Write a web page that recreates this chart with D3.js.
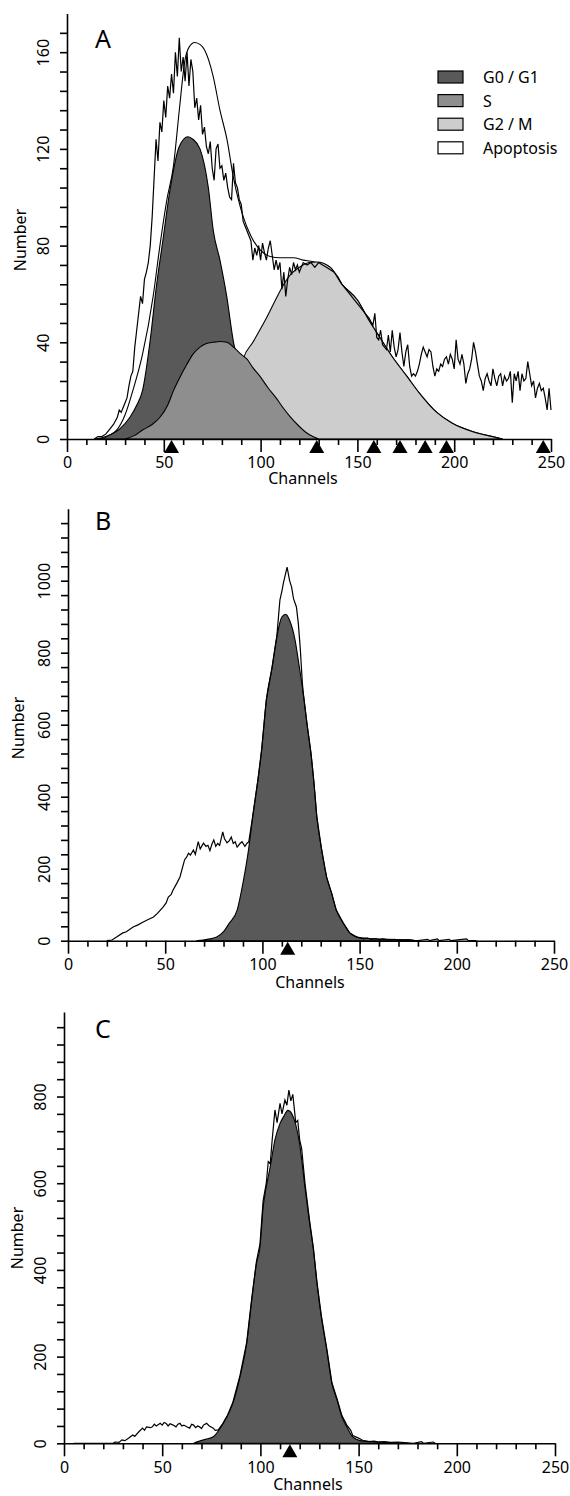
<!DOCTYPE html>
<html>
<head>
<meta charset="utf-8">
<script src="https://cdn.jsdelivr.net/npm/d3@7"></script>
<style>
body{margin:0;background:#fff}
svg{display:block;font-family:"Noto Sans",sans-serif}
</style>
</head>
<body>
<svg width="570" height="1496"></svg>
<script>
// ---- panel A : [channel, number]
var aEnvelope = [[14,0],[20,1],[26,4],[30,10],[34,20],[39,35],[44.5,59],[48,80],[51.6,99],[55,113],[58,136],[61,157],[63,162],[66,164],[69,163],[71,161],[75.5,150],[79,136],[82.6,124],[86,108],[91,92],[95,84],[100,78],[105,75.5],[110,75],[117,75],[122,74],[126,73.5],[129,73],[136,71],[142,64],[150,57.5],[156,49],[161.6,42],[168,34],[175.5,26],[182,19],[191,11],[199,6.5],[210,3],[218,1.3],[225,0]];
var aG0G1 = [[18,0],[22,1.6],[27,4],[32.5,9],[36,14],[39,20],[43,41],[46,62],[49.5,82],[53,102],[58,121],[62.5,125],[65,124],[68.7,120],[73,104],[75.6,86],[79,74],[82.5,59],[86,40],[90,28],[95,16],[100,9],[105,4],[110,2],[115,0.5],[118,0]];
var aS = [[30,0],[35,1.5],[39,3.7],[44,6],[48,9],[52,14],[55,20],[58,25],[62,31],[65,35],[68.7,38],[72,39.5],[75.5,40],[79,40.3],[82.6,40],[86,38],[90,35],[93,33],[96,29.5],[99.6,26],[104,21],[108,17],[112,12.5],[115,9.5],[119,6],[123,3],[127,1],[130,0]];
var aG2M = [[75,0],[80,3],[85,12],[88,22],[91,33],[96,40],[103,50],[108,58],[112,64],[116,68.5],[120,71],[125,73],[129,73.2],[136,71],[142,64],[150,57.5],[156,49],[161.6,42],[168,34],[175.5,26],[182,19],[191,11],[199,6.5],[209.6,3],[218,1.3],[225,0]];
var aRaw = [[14,0],[16,1],[18,1],[20,2],[22,4],[24,6],[26,9],[27,12],[28,11],[29,13],[30,15],[31,17],[32,22],[33,26],[34,28],[35,38],[36,45],[37,52],[38,59],[39,56],[40,66],[41,69],[42,73],[43,80],[44,92],[45,108],[46,124],[47,115],[48,131],[49,127],[50,140],[51,133],[52,146],[53,141],[54,151],[55,143],[56,160],[57,150],[58,166],[59,152],[60,158],[61,148],[62,160],[63,146],[64,157],[65,152],[66,137],[67,141],[68,132],[69,138],[70,126],[71,129],[72,121],[73,118],[74,123],[75,112],[76,107],[77,120],[78,122],[79,112],[80,113],[81,107],[82,110],[83,104],[84,100],[85,99],[86,114],[87,106],[88,104],[89,99],[90,97],[91,90],[92,88],[93,86],[94,84],[95,82],[96,74],[97,79],[98,76],[99,80],[100,74],[101,81],[102,77],[103,74],[104,79],[105,82],[106,76],[107,70],[108,74],[109,70],[110,73],[111,62],[112,69],[113,59],[114,66],[115,71],[116,68],[117,73],[118,70],[119,72],[120,69],[122,73],[124,72],[126,73],[128,71],[130,73],[132,72],[134,71],[136,70],[138,69],[140,67],[142,64],[144,62],[146,60],[148,58],[150,56],[152,54],[154,52],[156,50],[158,47],[159,52],[160,42],[161,41],[162,45],[163,39],[164,38],[165,37],[166,43],[167,36],[168,45],[169,38],[170,34],[171,37],[172,44],[173,36],[174,30],[175,36],[176,39],[177,30],[178,26],[179,27],[180,26],[181,28],[182,31],[183,35],[184,38],[185,36],[186,34],[187,37],[188,36],[189,30],[190,26],[191,29],[192,28],[193,31],[194,30],[195,33],[196,34],[197,31],[198,35],[199,33],[200,29],[201,41],[202,33],[203,31],[204,35],[205,31],[206,23],[207,27],[208,29],[209,33],[210,40],[211,36],[212,31],[213,26],[214,24],[215,20],[216,25],[217,27],[218,24],[219,22],[220,29],[221,25],[222,22],[223,26],[224,27],[225,22],[226,26],[227,24],[228,25],[229,28],[230,15],[231,27],[232,24],[233,28],[234,20],[235,27],[236,24],[237,25],[238,32],[239,27],[240,22],[241,24],[242,17],[243,21],[244,23],[245,20],[246,21],[247,17],[248,12],[249,21],[250,12]];
var aMarkers = [54, 129, 158.5, 172, 185, 196, 246];

// ---- panel B
var bG0G1 = [[66,0],[69.5,2],[73,5],[76.5,10],[80,25],[83,49],[87,85],[90,160],[92.8,250],[95,344],[97.9,455],[99.6,530],[102,668],[105,760],[107.4,844],[110,899],[112,907],[114,890],[116.8,835],[119,760],[121,688],[123,600],[125,520],[126.5,440],[128,344],[130.5,252],[133,177],[135.6,132],[138,85],[141.6,49],[145,21],[148.6,10],[155,6],[165,4],[175,2],[180,0]];
var bRaw = [[20,0],[22.6,2],[25,10],[28,21],[30,25],[33.5,38],[36,44],[38.7,52],[41,58],[44,66],[46,76],[49,94],[50.5,105],[51.6,121],[53,128],[54,140],[56,160],[57.6,177],[59,205],[60,225],[61,232],[62,243],[63,238],[64.5,252],[65.5,240],[67,275],[68,255],[69.7,271],[71,262],[72,265],[73,250],[74,268],[75,280],[76,262],[77,270],[78,265],[79.6,302],[80.5,283],[81.8,272],[83,278],[84,288],[85,270],[86,275],[87,260],[88.5,270],[89.5,275],[91,262],[92,270],[93,275],[95,344],[97.9,455],[99.6,530],[102,668],[105,760],[107.4,844],[109,946],[110,970],[110.8,993],[112.7,1038],[114,1000],[115,983],[116,950],[117.5,927],[118.5,880],[119.5,810],[120.5,720],[121,688],[123,600],[125,520],[126.5,440],[128,344],[130.5,252],[133,177],[135.6,132],[138,85],[141.6,49],[145,21],[148.6,10],[150,8],[152,5],[154,7],[156,4],[158,6],[160,3],[162,5],[165,2],[168,4],[170,2],[175,3],[178,1],[180,0],[185,4],[186,0],[190,5],[191,0],[196,4],[197,0],[205,5],[206,0],[210,0]];
var bMarkers = [113];

// ---- panel C
var cG0G1 = [[66,0],[69,5],[72,9],[76,15],[81,46],[86,92],[89.6,153],[93,230],[95.6,330],[98,415],[99.8,453],[101.4,545],[103,592],[105,638],[107.4,700],[110,738],[112,755],[114,768],[116,760],[118,735],[120,690],[122.7,590],[125,510],[127,446],[128.8,369],[131,292],[133.8,215],[136.4,138],[139,100],[141.5,61],[144,38],[147,15],[152,5],[160,3],[170,1],[175,0]];
var cRaw = [[5,0],[25,0],[26,3],[28,2],[29.5,8],[31,6],[33,12],[35,19],[36,16],[38,26],[40,35],[41,30],[42,38],[44,36],[45,38],[46,44],[47,40],[49,46],[50,42],[51,48],[52,46],[53,40],[54,45],[55.6,42],[57,38],[58,44],[59,46],[60,40],[61,42],[62.5,38],[64,35],[65,44],[66,42],[67,36],[68,40],[69,38],[70,34],[71,42],[72.6,46],[74,40],[76,35],[77,30],[78.6,31],[80,40],[81,46],[82,55],[83,62],[86,95],[89.6,156],[93,232],[95.6,335],[98,420],[99.8,460],[101.4,560],[103,600],[104,650],[105,645],[106,700],[107.4,769],[108.5,740],[110,784],[111,760],[112.5,792],[113.5,780],[114.5,815],[115.5,790],[116.5,805],[118,740],[119,745],[120,700],[121,680],[122.7,600],[125,515],[127,450],[128.8,372],[131,295],[133.8,218],[136.4,140],[139,103],[141.5,64],[144,42],[146,30],[147,18],[150,12],[152,7],[155,4],[158,5],[160,3],[163,4],[166,2],[170,3],[175,1],[178,0],[182,4],[183,0],[188,3],[189,0]];
var cMarkers = [115];

var phaseNames  = ["G0 / G1", "S", "G2 / M", "Apoptosis"];
var phaseColors = ["#595959", "#8e8e8e", "#cdcdcd", "#ffffff"];

var svg = d3.select("svg");

function drawPanel(p){
    var x = d3.scaleLinear().domain([0, 250]).range([p.left, p.right]);
    var y = d3.scaleLinear().domain([0, p.yMax]).range([p.bottom, p.top]);
    var g = svg.append("g");

    var area = d3.area()
        .x(function(d){ return x(d[0]); })
        .y0(y(0))
        .y1(function(d){ return y(d[1]); })
        .curve(d3.curveMonotoneX);

    p.layers.forEach(function(l){
        g.append("path")
            .datum(l.data)
            .attr("d", area)
            .attr("fill", l.fill)
            .attr("stroke", "#000")
            .attr("stroke-width", 1.1);
    });

    var line = d3.line()
        .x(function(d){ return x(d[0]); })
        .y(function(d){ return y(d[1]); });

    g.append("path")// raw histogram
        .datum(p.raw)
        .attr("d", line)
        .attr("fill", "none")
        .attr("stroke", "#000")
        .attr("stroke-width", 1.2);

    // y axis
    var yAxis = d3.axisLeft(y)
        .tickValues(d3.range(0, p.yMax, p.minor))
        .tickSizeInner(7)
        .tickSizeOuter(0)
        .tickFormat(function(d){ return d % p.major === 0 ? d : ""; });

    var ya = g.append("g")
        .attr("transform", "translate(" + p.left + ",0)")
        .call(yAxis);
    ya.selectAll("text")
        .attr("x", null).attr("dy", null)
        .attr("text-anchor", "middle")
        .attr("dominant-baseline", "central")
        .attr("transform", "translate(-24,0) rotate(-90)");

    // x axis
    var xAxis = d3.axisBottom(x)
        .tickValues(d3.range(0, 251, 10))
        .tickSizeInner(6)
        .tickSizeOuter(0)
        .tickFormat(function(d){ return d % 50 === 0 ? d : ""; });

    var xa = g.append("g")
        .attr("transform", "translate(0," + p.bottom + ")")
        .call(xAxis);
    xa.selectAll(".tick line")
        .filter(function(d){ return d % 50 === 0; })
        .attr("y2", 13);
    xa.selectAll("text").attr("y", 18);

    [ya, xa].forEach(function(a){
        a.attr("font-size", 16).attr("font-family", null);
        a.selectAll("path, line").attr("stroke", "#000").attr("stroke-width", 1.6);
        a.selectAll("text").attr("fill", "#000");
    });

    // peak markers
    g.selectAll(".marker")
        .data(p.markers)
        .enter().append("polygon")
        .attr("class", "marker")
        .attr("fill", "#000")
        .attr("points", function(d){
            var cx = x(d), b = p.bottom;
            return (cx - 7.5) + "," + (b + 14) + " " + cx + "," + (b + 1) + " " + (cx + 7.5) + "," + (b + 14);
        });

    g.append("text")
        .attr("x", 95).attr("y", p.letterY)
        .attr("font-size", 25)
        .text(p.letter);

    g.append("text")
        .attr("transform", "translate(" + p.numX + "," + p.numY + ") rotate(-90)")
        .attr("text-anchor", "middle")
        .attr("dominant-baseline", "central")
        .attr("font-size", 16)
        .text("Number");

    g.append("text")
        .attr("x", p.chX).attr("y", p.chY)
        .attr("text-anchor", "middle")
        .attr("dominant-baseline", "central")
        .attr("font-size", 16)
        .text("Channels");

    return g;
}

var gA = drawPanel({
    left: 67, right: 551, bottom: 439, top: 13.5, yMax: 176, minor: 8, major: 40,
    layers: [
        {data: aEnvelope, fill: phaseColors[3]},
        {data: aG0G1, fill: phaseColors[0]},
        {data: aG2M, fill: phaseColors[2]},
        {data: aS, fill: phaseColors[1]}
    ],
    raw: aRaw, markers: aMarkers,
    letter: "A", letterY: 48, numX: 20, numY: 240, chX: 303, chY: 478
});

drawPanel({
    left: 68, right: 554, bottom: 940.7, top: 508.7, yMax: 1200, minor: 40, major: 200,
    layers: [{data: bG0G1, fill: phaseColors[0]}],
    raw: bRaw, markers: bMarkers,
    letter: "B", letterY: 530, numX: 18, numY: 728, chX: 310, chY: 982
});

drawPanel({
    left: 64, right: 555, bottom: 1443.3, top: 1012, yMax: 995, minor: 40, major: 200,
    layers: [{data: cG0G1, fill: phaseColors[0]}],
    raw: cRaw, markers: cMarkers,
    letter: "C", letterY: 1038, numX: 17, numY: 1238, chX: 308, chY: 1484
});

// legend (panel A)
var legend = gA.selectAll(".legend")
    .data(phaseNames)
    .enter().append("g")
    .attr("class", "legend")
    .attr("transform", function(d, i){ return "translate(438," + (77 + i * 23.6) + ")"; });

legend.append("rect")
    .attr("x", 0).attr("y", -6)
    .attr("width", 25).attr("height", 12)
    .attr("fill", function(d, i){ return phaseColors[i]; })
    .attr("stroke", "#000")
    .attr("stroke-width", 1.2);

legend.append("text")
    .attr("x", 45)
    .attr("dominant-baseline", "central")
    .attr("font-size", 16)
    .text(function(d){ return d; });
</script>
</body>
</html>
